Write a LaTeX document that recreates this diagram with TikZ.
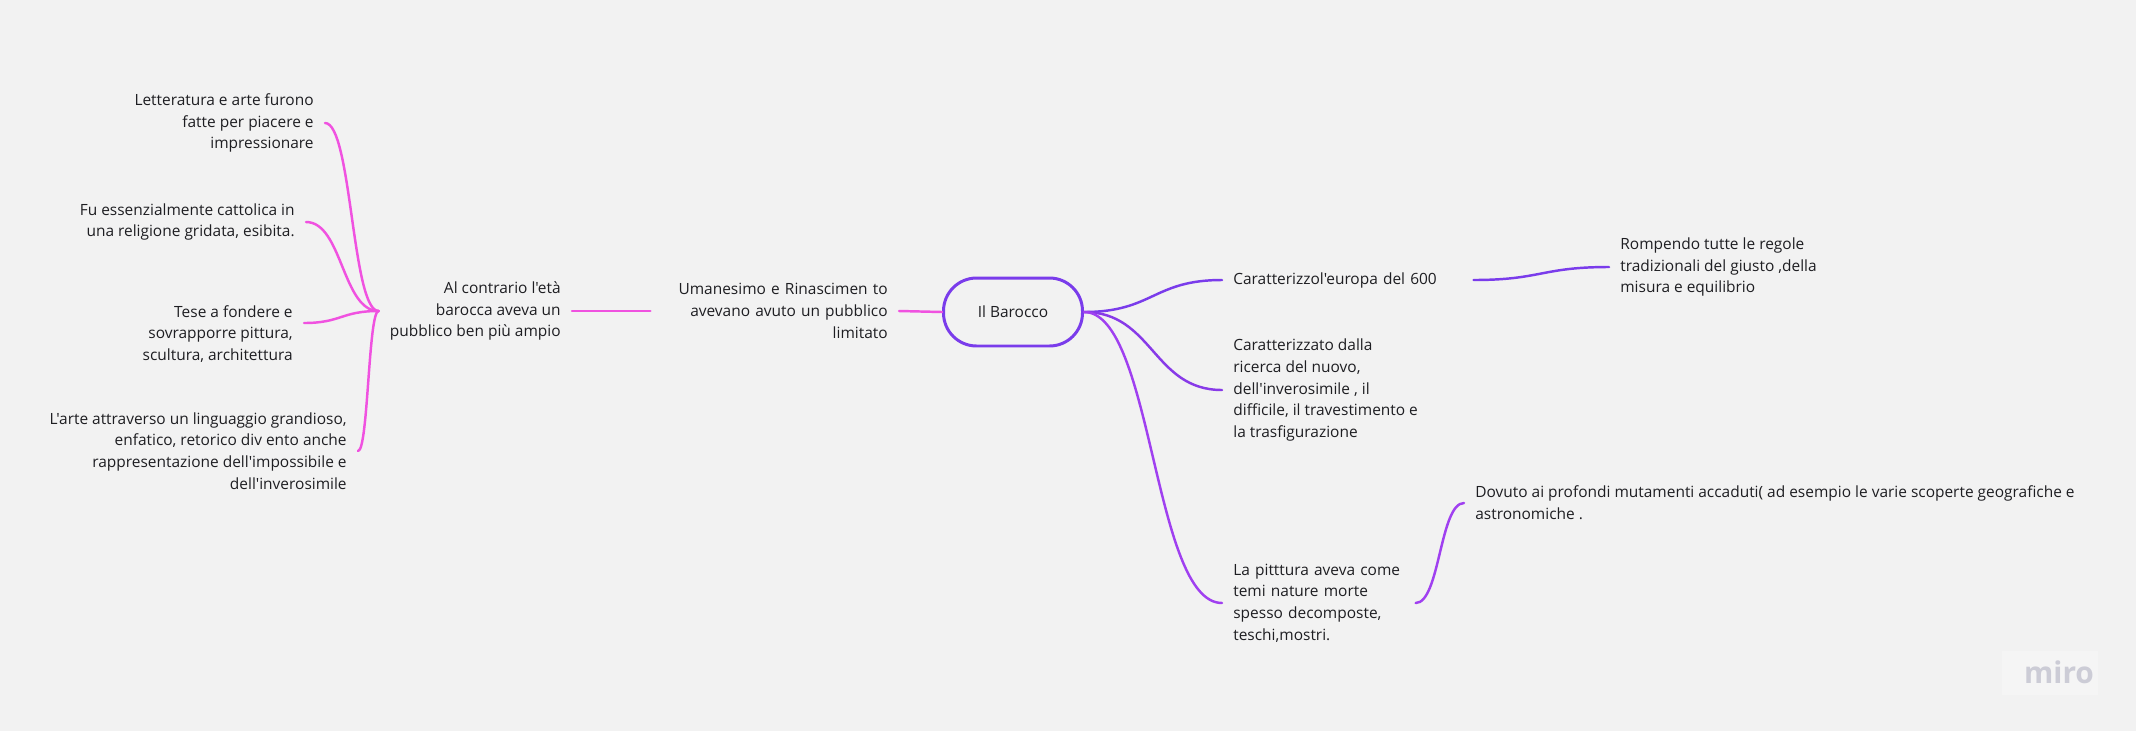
\documentclass[tikz,border=0pt]{standalone}
\usepackage{fontspec}
\setmainfont{Open Sans}[Ligatures=TeXOff]
\usetikzlibrary{calc}

\definecolor{bgcolor}{RGB}{242,242,242}
\definecolor{inkgray}{RGB}{30,30,34}
\definecolor{barpurple}{RGB}{122,60,235}
\definecolor{midpurple}{RGB}{136,58,232}
\definecolor{pittviolet}{RGB}{160,64,240}
\definecolor{fanpink}{RGB}{240,82,224}
\definecolor{logogray}{RGB}{204,204,214}

\tikzset{
  txt/.style={font=\fontsize{8.8}{12.4}\selectfont, text=inkgray, inner xsep=0.22cm, inner ysep=0pt},
  pill/.style={draw=barpurple, line width=1.7pt, rounded corners=0.66cm,
    minimum width=2.78cm, minimum height=1.36cm, inner sep=0pt,
    font=\fontsize{8.8}{12.4}\selectfont, text=inkgray},
  branch/.style={line width=1.4pt, line cap=round,
    to path={let \p1=(\tikztostart), \p2=(\tikztotarget) in
      .. controls ({0.5*\x1+0.5*\x2},\y1) and ({0.5*\x1+0.5*\x2},\y2) .. (\tikztotarget)}},
}

\begin{document}
\begin{tikzpicture}[x=0.02cm, y=-0.02cm]
    \useasboundingbox (0,0) rectangle (2136,731);
    \fill[bgcolor] (0,0) rectangle (2136,731);

    % Centre
    \node[pill] (barocco) at (1013,312) {Il Barocco};

    % Left chain
    \node[txt, anchor=east, align=right, text width=4.52cm] (uman) at (899,311)
        {Umanesimo e Rinascimen to\\avevano avuto un pubblico\\limitato};
    \node[txt, anchor=east, align=right] (contrario) at (572,311)
        {Al contrario l'età\\barocca aveva un\\pubblico ben più ampio};

    % Left fan
    \node[txt, anchor=east, align=right] (lett) at (325,123)
        {Letteratura e arte furono\\fatte per piacere e\\impressionare};
    \node[txt, anchor=east, align=right] (fu) at (306,222)
        {Fu essenzialmente cattolica in\\una religione gridata, esibita.};
    \node[txt, anchor=east, align=right] (tese) at (304,334)
        {Tese a fondere e\\sovrapporre pittura,\\scultura, architettura};
    \node[txt, anchor=east, align=right] (arte) at (358,451)
        {L'arte attraverso un linguaggio grandioso,\\enfatico, retorico div ento anche\\rappresentazione dell'impossibile e\\dell'inverosimile};

    % Right side
    \node[txt, anchor=west, align=left, text width=4.58cm] (car1) at (1222,280)
        {Caratterizzol'europa del 600};
    \node[txt, anchor=west, align=left] (car2) at (1222,390)
        {Caratterizzato dalla\\ricerca del nuovo,\\dell'inverosimile , il\\difficile, il travestimento e\\la trasfigurazione};
    \node[txt, anchor=west, align=left, text width=3.42cm] (pitt) at (1222,603)
        {La pitttura aveva come\\temi nature morte\\spesso decomposte,\\teschi,mostri.};
    \node[txt, anchor=west, align=left] (romp) at (1609,267)
        {Rompendo tutte le regole\\tradizionali del giusto ,della\\misura e equilibrio};
    \node[txt, anchor=west, align=left] (dov) at (1464,503)
        {Dovuto ai profondi mutamenti accaduti( ad esempio le varie scoperte geografiche e\\astronomiche .};

    % Connectors, pink side
    \draw[branch, fanpink] (barocco.west) to (uman.east);
    \draw[branch, fanpink] (uman.west) to (contrario.east);
    \foreach \leaf/\dy in {lett/0, fu/0, tese/0.22cm, arte/0} {
        \draw[branch, fanpink] (contrario.west) to ([yshift=\dy]\leaf.east);
    }

    % Connectors, purple side
    \draw[branch, barpurple] (barocco.east) to (car1.west);
    \draw[branch, midpurple] (barocco.east) to (car2.west);
    \draw[branch, pittviolet] (barocco.east) to (pitt.west);
    \draw[branch, barpurple] (car1.east) to (romp.west);
    \draw[branch, pittviolet] (pitt.east) to (dov.west);

    % Watermark
    \fill[white, opacity=0.25] (2002,651) rectangle (2098,695);
    \node[font=\fontsize{17}{19}\selectfont\bfseries, text=logogray] (miro) at (2059,672) {miro};
\end{tikzpicture}
\end{document}
